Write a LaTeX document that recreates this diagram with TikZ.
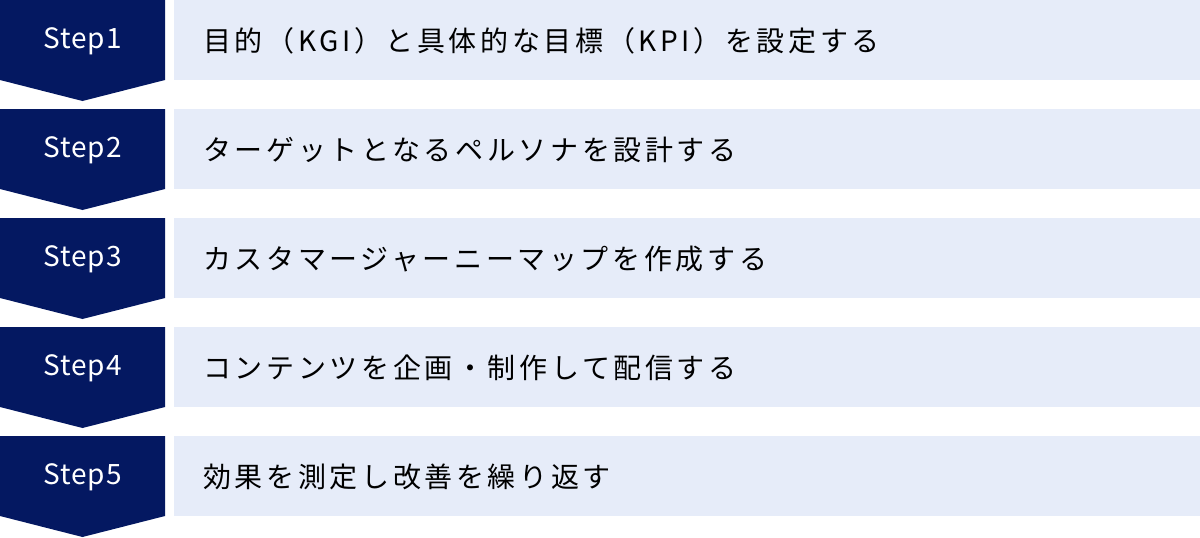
\documentclass[tikz,border=0pt]{standalone}
\usepackage{fontspec}
\setmainfont{Noto Sans CJK JP}
\newfontfamily\jpwide[LetterSpace=13]{Noto Sans CJK JP}
\newfontfamily\stepfont[LetterSpace=4]{Noto Sans CJK JP}
\definecolor{navy}{HTML}{041861}
\definecolor{barbg}{HTML}{E6ECF9}
\tikzset{
  chev/.style={fill=navy, draw=none},
  steplabel/.style={text=white, font=\stepfont\fontsize{28}{32}\selectfont, inner sep=0pt, anchor=center},
  barbox/.style={fill=barbg, draw=none, minimum width=1026pt, minimum height=80pt, inner sep=0pt, anchor=north west},
  bartext/.style={text=black, font=\jpwide\fontsize{28}{32}\selectfont, inner sep=0pt, anchor=west}
}
\begin{document}
\begin{tikzpicture}[x=1pt,y=-1pt]
\useasboundingbox (0,0) rectangle (1200,538);
\foreach \i/\s/\t in {1/Step1/目的（KGI）と具体的な目標（KPI）を設定する,
                     2/Step2/ターゲットとなるペルソナを設計する,
                     3/Step3/カスタマージャーニーマップを作成する,
                     4/Step4/コンテンツを企画・制作して配信する,
                     5/Step5/効果を測定し改善を繰り返す}{
  \pgfmathsetmacro{\yy}{(\i-1)*109}
  \fill[chev] (0,\yy) -- (165,\yy) -- (165,\yy+80) -- (82.5,\yy+101) -- (0,\yy+80) -- cycle;
  \node[steplabel] (s\i) at (82.5,\yy+41) {\s};
  \node[barbox] (b\i) at (174,\yy) {};
  \node[bartext] (t\i) at (203,\yy+41) {\t};
}
\end{tikzpicture}
\end{document}
